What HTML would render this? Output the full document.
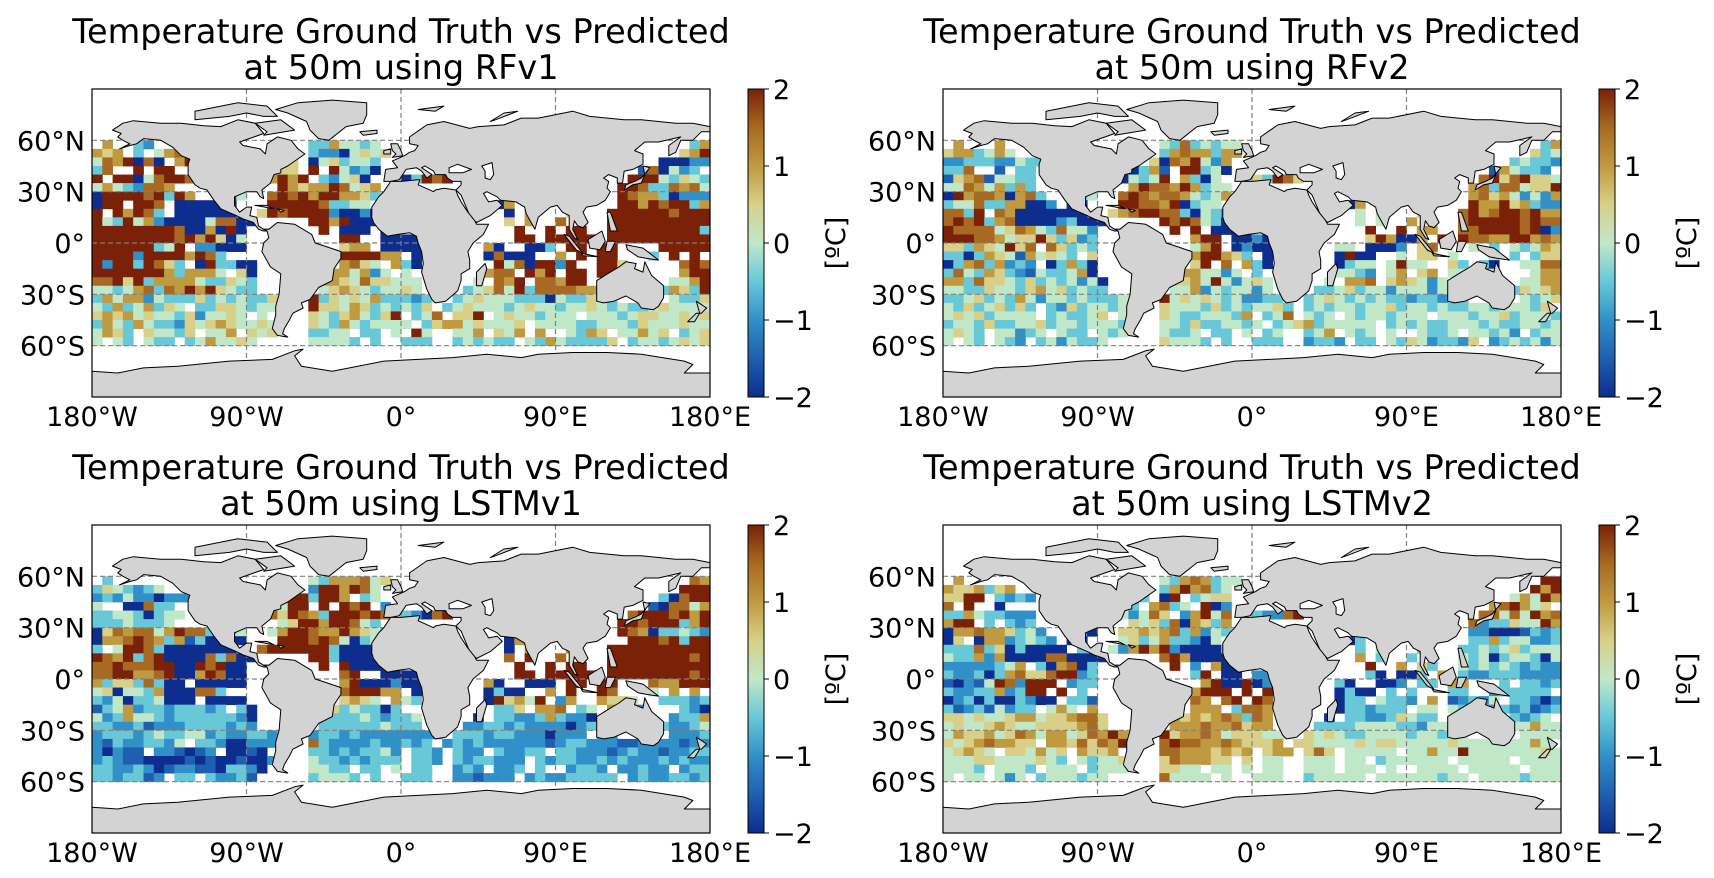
<!DOCTYPE html>
<html><head><meta charset="utf-8"><title>Temperature Ground Truth vs Predicted</title>
<style>
html,body{margin:0;padding:0;background:#fff;}
svg{display:block;font-family:"DejaVu Sans","Liberation Sans",sans-serif;}
</style></head>
<body>
<svg id="fig" width="1714" height="878" viewBox="0 0 1714 878" xmlns="http://www.w3.org/2000/svg">
<defs>
<linearGradient id="cbgrad" x1="0" y1="1" x2="0" y2="0">
<stop offset="0" stop-color="#0d2d8f"/><stop offset="0.125" stop-color="#1f5fb0"/><stop offset="0.25" stop-color="#3190c8"/><stop offset="0.375" stop-color="#68c8d8"/><stop offset="0.5" stop-color="#c0e8c8"/><stop offset="0.625" stop-color="#d8d088"/><stop offset="0.75" stop-color="#c09a40"/><stop offset="0.875" stop-color="#a86a22"/><stop offset="1" stop-color="#7a2108"/>
</linearGradient>
</defs>
</svg>
<script>
// ---- chart data ----
const lonTicks = [-180, -90, 0, 90, 180];
const lonTickLabels = ["180°W", "90°W", "0°", "90°E", "180°E"];
const latTicks = [60, 30, 0, -30, -60];
const latTickLabels = ["60°N", "30°N", "0°", "30°S", "60°S"];
const cbTicks = [2, 1, 0, -1, -2];
const cbTickLabels = ["2", "1", "0", "\u22121", "\u22122"];
const panelTitles = ["at 50m using RFv1", "at 50m using RFv2", "at 50m using LSTMv1", "at 50m using LSTMv2"];
// rows 60N->60S in 5° steps, 60 columns of 6° from 180W; digit d => (d-4)/2 °C, '.' = no data
const rfv1Rows = [
".6..32...............3364434..............................36",
"656.3.467............32204545............................568",
"4768070.68........55.0453443...........................00022",
"37..8.88..........55.8.84230.........................170423",
"8.88047887.......6868.32450...03878.................88843543",
"46432776..........8656687456.......................887337674",
"0888878386..304..787868866534......................876630222",
"088.887.000000...8888873344............06..........886878836",
"8.86873.000000..5878888200200...........0.6...5...8888887888",
"8438462000047700.....88680000...........5.6..7....8888888888",
"888888887006080.......8.000.0............8..8.88..8888888883",
"888888887868504.........88..0000.........88.88888.8888888888",
"888888348.22000.........566.00000.....60..003.88.88....88888",
"8888288886873...........888866.0......07000..6.8.88...3.8.8.",
"828838753.083300........6754.630.......84708828..885.....787",
"8888888636664.50.......664624.4.......677.868.88.8884....688",
"7785836666433543......6654755444.....4.768.77688........4468",
"4434673768685433......4565434454....3457483777766......36538",
"364662433353434335...8354546333234.3454443330433543.....4335",
"436346354.33554344...855465343435.345444345443445434334544445",
"565645443524454.4....543564358.347.558.45443444.444345544545",
"364364332545654454...5436434444.3566454445.44443344435444544",
"4653.54435.446.545...3344.33.4.84..446.546.6..4365.44645.345",
"4.43.433.3464454.....44443.3..333..343433.436433335.34434545"];
const rfv2Rows = [
".6...6...............43734344.............................36",
"5663464..............36766366............................534",
"2233322433........5.50768426...........................34332",
"337..1.33.........0361.88340.........................164332",
"156714433........04348.6304...53875.................78578554",
"447646363.........6877686344.......................673774558",
"0867760673..334..787677643464......................675642426",
"34473366002.00...8877680344............06..........866856322",
"7738.760000000..5678877304320...........4.4...5...7867887866",
"7878367000023000.....87874300...........4.4..6....7888887877",
"877774576437442.......8.8.000............8..8.66..7788887802",
"888776455853523.........688.0020.........586006.8.8776688676",
"553654857.75343.........468.02000.....44.0002.57...4.3.43465",
"3303654164543.5.........688653.0......0800..4.55.4...4.3.355",
"036736232.03630.........58.7.630......0344.4844..53.30..4477",
"374365321433460........664424.3.......4432.46.56.44304...466",
"6637554353434240......5564842454.....4.667.565424.......4466",
"4433544356453433......4462434424....3345344244424......35456",
"334534364244343334...8454543422334.3454343433233233.....4345",
"435345353.32534434...5444353434453.343443445344343344344435",
"454534444.343345.4...543344436.347.434.43443444.444344534443",
"344353344534434443...4435334434.3456344444.34343344434334434",
"4543.44234.433.434...4334.33.4.34..346.434.4..4334.44342.344",
"4.43.432.3424334.....54443.3..333..2332.33.435423325.23434242"];
const lstmv1Rows = [
".3...................43666745.............................76",
"3543234..............2886874.............................888",
"2324220222........5883886.34...........................30788",
"4..00733..........488.8.878.2.........................107746",
"334430344........758763888787.32078.................78887868",
"33343334..........4588688743.......................887888368",
"057677468773734..468876686543......................876033432",
"066787636130000...8887874034............06..........888783883",
"3.488730000000..7888888300000...........0.6...6...8888888888",
"8768378000073700.....88300000...........7.8..7....8888888878",
"778777880087800.......8.80000............8..8.88..8888888888",
"778866780068700.........78..0000.........88.88888.8888888878",
"635537300.00000.........680002000.....60..000.88.88...766888",
"4504436000773...........788866.0......0300..6.8..87...4.6.6.",
"3240334000.0000.........5654.643......085648.26..6554..33323",
"1346233233323.30.......5343303.........335.667.34.6562...3203",
"4236443233333320......3333432334.....0.3322363220.......2336",
"3322312223333232......3333334333....2233232222023......32234",
"233323433442322332...2332322222222.3332332220222.22.....2223",
"213223324.33200222...732222322323.23232222221233222112222122",
"20211.221012.0010....332323342.332.322.32233.332221232212233",
"232110000101001002...433232333.332.3233222.32332232322232322",
"33223201221103320....4433.33.4.33..232.223.3..2332.22322.233",
"3323312.33.32231.....34443.3..333..221222.232233333.23223323"];
const lstmv2Rows = [
".6...................43676344.............................88",
"6556356..............3686734.............................868",
"5588.3232.........43.08.3455...........................46486",
"7.8..0............3.6734.802.........................678645",
"336433222........42475.26847..32278.................77474867",
"688.3.323.........5453706536.......................723354486",
"0667665342..820..556567362434......................220001323",
"05.06623432.00...4534633204............03..........336344223",
"333735030000.3..4268682000030...........3.4...3...3343453444",
"4336260000770000.....78600000...........6.3..3....4340344304",
"22222346.306703.......8.2.600............8..6.53..4343432322",
"322303675578823.........38.00.22.........30.003.6.3223332222",
"10214872888.233..........68008022.....30..002.33.66...3.3323",
"3223362388.8.3..........6888.8.8......0300.3.3...33..233333.",
"02303003200.331.........76.78.87......033.4332.6.12324.33202",
"312314233.464.6.........666.3776......0332333.44.43242323123",
"5545445664556775......6565676376.....0.332235433.......3234",
"4544565445555675......6667667566....3333444433244......44644",
"465564576466457686...8566764555444.5454334444344344.....4444",
"545676655.66575768...787766765556.5544445455444445444444464",
"45654.554645.6556....776665656.566.575.44444.446448444444454",
"444554444543.43445...5766655.5.44..444.44.3444444.44444.4444",
"4443.4443.444.3444...5544.44.4.44..444.444.4..4444.44444.444",
"4.44.424.3444344.....74444.4..444..344444.444444344.44443444"];

// land polygons (lon, lat) - rough outlines
const landPolys = [
[[-168,66],[-162,70],[-156,71.5],[-140,70],[-128,70],[-115,68.5],[-105,68],[-95,72],[-85,70],[-80,64],[-94,59],[-92,57],[-82,55],[-79,52],[-78,58],[-72,62],[-64,60],[-60,55],[-56,52],[-66,45],[-70,43],[-70,41],[-74,40],[-76,35],[-81,31],[-80,26],[-82,27],[-84,30],[-90,30],[-97,27],[-97,22],[-94,18],[-90,21],[-87,21],[-88,16],[-84,15],[-83,10],[-80,8],[-77,8],[-78,7],[-80,7],[-83,8],[-86,12],[-92,14],[-96,16],[-105,20],[-109,25],[-113,31],[-117,32],[-120,34],[-124,40],[-124,46],[-123,49],[-128,51],[-133,56],[-140,60],[-150,61],[-154,58],[-158,57],[-164,55],[-158,58],[-162,60],[-165,62],[-163,64],[-168,66]],
[[-73,78],[-60,82],[-40,83.5],[-20,82],[-20,75],[-22,70],[-32,68],[-42,60],[-48,61],[-53,66],[-55,71],[-66,76],[-73,78]],
[[-120,72],[-100,74],[-90,76],[-80,74],[-72,74],[-78,80],[-95,82],[-120,77]],
[[-80,63],[-62,66],[-70,72],[-85,70],[-78,65]],
[[-80,8],[-77,8],[-72,12],[-62,11],[-52,5],[-50,0],[-44,-2],[-35,-5],[-35,-9],[-39,-15],[-40,-22],[-48,-26],[-53,-33],[-58,-35],[-57,-38],[-63,-41],[-65,-45],[-68,-50],[-69,-53],[-66,-55],[-72,-54],[-75,-50],[-73,-42],[-73,-37],[-71,-30],[-70,-18],[-76,-14],[-81,-5],[-80,0],[-77,3],[-78,7]],
[[-10,36],[-9,43],[-2,44],[-5,48],[2,51],[5,53],[8,54],[10,57],[5,58],[5,62],[15,69],[25,71],[40,67],[45,68],[60,69],[70,73],[80,73],[100,77],[110,74],[130,72],[140,72],[160,70],[170,70],[180,68],[180,65],[175,65],[170,60],[163,60],[160,53],[156,51],[156,57],[163,62],[150,59],[142,59],[136,54],[141,52],[141,46],[135,43],[130,42],[129,35],[126,35],[126,38],[121,40],[118,38],[121,36],[120,32],[122,30],[119,25],[114,22],[108,21],[106,18],[109,12],[106,9],[103,10],[101,13],[100,8],[103,2],[101,3],[98,8],[98,16],[94,18],[91,22],[87,21],[80,15],[78,8],[73,17],[72,21],[67,24],[58,25],[56,27],[50,30],[48,29],[51,24],[56,25],[59,22],[52,16],[44,12],[40,16],[35,28],[32,31],[35,34],[35,36],[30,36],[27,38],[26,40],[23,40],[20,40],[19,42],[14,45],[12,44],[18,40],[15,38],[12,42],[9,44],[3,43],[-1,37],[-6,36],[-10,36]],
[[-17,21],[-17,15],[-16,12],[-13,8],[-8,4],[-2,5],[5,6],[9,4],[10,0],[12,-5],[13,-12],[12,-17],[15,-27],[18,-33],[20,-35],[26,-34],[33,-28],[35,-22],[35,-18],[40,-15],[40,-10],[39,-5],[42,0],[48,5],[51,11],[44,11],[43,13],[39,18],[35,24],[33,28],[32,31],[25,32],[20,31],[19,30],[10,34],[11,37],[10,37],[0,36],[-6,36],[-10,30],[-13,27],[-17,21]],
[[44,-25],[47,-25],[50,-15],[49,-12],[44,-17]],
[[-5,50],[1,51],[0,54],[-2,58],[-6,58],[-5,54],[-3,52]],
[[-10,52],[-6,52],[-6,55],[-10,54]],
[[-24,65],[-14,66],[-14,64],[-22,63]],
[[130,31],[135,34],[140,35],[142,40],[141,45],[145,44],[140,38],[136,36],[131,34]],
[[95,5],[98,4],[106,-6],[102,-4]],
[[109,2],[117,7],[119,1],[116,-4],[110,-3]],
[[105,-6],[115,-8],[106,-7.5]],
[[120,1],[125,1],[122,-5],[119,-5]],
[[131,-1],[141,-3],[150,-10],[143,-9],[138,-8],[132,-4]],
[[120,18],[122,18],[126,7],[122,7]],
[[114,-22],[114,-34],[118,-35],[124,-34],[131,-31],[138,-35],[140,-38],[147,-39],[150,-37],[153,-32],[153,-25],[146,-19],[142,-11],[141,-17],[136,-15],[137,-12],[131,-11],[127,-14],[122,-17]],
[[172,-34],[178,-38],[175,-41],[174,-41]],
[[172,-41],[174,-41],[171,-46],[167,-46]],
[[-85,22],[-74,20],[-78,22]],
[[-72,20],[-68,19],[-70,18]],
[[10,78],[25,80],[20,77]],
[[52,71],[60,76],[68,77],[55,72]],
[[-180,-90],[-180,-75],[-165,-76],[-150,-73],[-130,-72],[-100,-69],[-75,-68],[-62,-63],[-57,-62],[-62,-66],[-58,-72],[-40,-75],[-30,-73],[-10,-69],[10,-68],[30,-67],[50,-65],[70,-67],[80,-65],[100,-64],[120,-64],[140,-65],[165,-69],[170,-71],[165,-76],[180,-76],[180,-90]]
];
const lakePolys = [
[[47,45],[53,47],[54,40],[52,37],[49,38],[49,42]],
[[28,44],[33,46],[41,43],[36,41],[28,41]]
];

const NS = "http://www.w3.org/2000/svg";
const svg = document.getElementById("fig");
const stopsV = [-2,-1.5,-1,-0.5,0,0.5,1,1.5,2];
const stopsC = ["#0d2d8f","#1f5fb0","#3190c8","#68c8d8","#c0e8c8","#d8d088","#c09a40","#a86a22","#7a2108"];
function hex(c){return [parseInt(c.slice(1,3),16),parseInt(c.slice(3,5),16),parseInt(c.slice(5,7),16)];}
function cmap(v){
  v=Math.max(-2,Math.min(2,v));
  for(let k=0;k<stopsV.length-1;k++){
    if(v<=stopsV[k+1]){const t=(v-stopsV[k])/(stopsV[k+1]-stopsV[k]);const a=hex(stopsC[k]),b=hex(stopsC[k+1]);
      return "rgb("+a.map((x,i)=>Math.round(x+(b[i]-x)*t)).join(",")+")";}
  }
  return stopsC[stopsC.length-1];
}
function mk(tag,attrs,parent){const e=document.createElementNS(NS,tag);for(const k in attrs)e.setAttribute(k,attrs[k]);(parent||svg).appendChild(e);return e;}

const FW=618, FH=308;
const panels=[
 {x0:92,y0:89,rows:rfv1Rows,title:panelTitles[0],name:"rfv1"},
 {x0:943,y0:89,rows:rfv2Rows,title:panelTitles[1],name:"rfv2"},
 {x0:92,y0:525,rows:lstmv1Rows,title:panelTitles[2],name:"lstmv1"},
 {x0:943,y0:525,rows:lstmv2Rows,title:panelTitles[3],name:"lstmv2"}
];

panels.forEach((p,pi)=>{
  const xS=lon=>p.x0+(lon+180)*FW/360;
  const yS=lat=>p.y0+(90-lat)*FH/180;
  const g=mk("g",{});
  
  
  const cp=mk("clipPath",{id:"clip"+pi},g);
  mk("rect",{x:p.x0,y:p.y0,width:FW,height:FH},cp);
  const inner=mk("g",{"clip-path":"url(#clip"+pi+")"},g);
  const cells=mk("g",{},inner);
  
  
  p.rows.forEach((row,j)=>{
    for(let i=0;i<60;i++){
      const ch=row[i];
      if(ch===undefined||ch<"0"||ch>"8")continue;
      const v=(ch.charCodeAt(0)-52)/2;
      const lon=-180+6*i, lat=60-5*j;
      const r=mk("rect",{x:xS(lon).toFixed(2),y:yS(lat).toFixed(2),width:(xS(lon+6)-xS(lon)+0.4).toFixed(2),height:(yS(lat-5)-yS(lat)+0.4).toFixed(2),fill:cmap(v)},cells);
      
      
    }
  });
  const grid=mk("g",{stroke:"#808080","stroke-width":1.2,"stroke-dasharray":"5,3",fill:"none"},inner);
  
  
  [-90,0,90].forEach(l=>mk("line",{x1:xS(l),x2:xS(l),y1:p.y0,y2:p.y0+FH},grid));
  latTicks.forEach(l=>mk("line",{x1:p.x0,x2:p.x0+FW,y1:yS(l),y2:yS(l)},grid));
  const land=mk("g",{fill:"#d3d3d3",stroke:"#000","stroke-width":1,"stroke-linejoin":"round"},inner);
  
  
  landPolys.forEach(poly=>{mk("polygon",{points:poly.map(q=>xS(q[0]).toFixed(1)+","+yS(q[1]).toFixed(1)).join(" ")},land);});
  lakePolys.forEach(poly=>{mk("polygon",{fill:"#fff",points:poly.map(q=>xS(q[0]).toFixed(1)+","+yS(q[1]).toFixed(1)).join(" ")},land);});
  const fr=mk("rect",{x:p.x0,y:p.y0,width:FW,height:FH,fill:"none",stroke:"#000","stroke-width":1.2},g);
  
  
  const cx=p.x0+FW/2;
  const t1=mk("text",{x:cx,y:p.y0-46,"text-anchor":"middle","font-size":33.5,fill:"#000"},g);
  t1.textContent="Temperature Ground Truth vs Predicted";
  
  
  const t2=mk("text",{x:cx,y:p.y0-10,"text-anchor":"middle","font-size":33.5,fill:"#000"},g);
  t2.textContent=p.title;
  
  
  lonTicks.forEach((l,k)=>{
    const t=mk("text",{x:xS(l),y:p.y0+FH+29,"text-anchor":"middle","font-size":27},g);
    t.textContent=lonTickLabels[k];
    
    
  });
  latTicks.forEach((l,k)=>{
    const t=mk("text",{x:p.x0-7,y:yS(l)+10,"text-anchor":"end","font-size":27},g);
    t.textContent=latTickLabels[k];
    
    
  });
  const cbx=p.x0+656, cbw=16;
  const cbS=v=>p.y0+(2-v)*FH/4;
  const cb=mk("g",{},g);
  
  
  mk("rect",{x:cbx,y:p.y0,width:cbw,height:FH,fill:"url(#cbgrad)",stroke:"#000","stroke-width":1},cb);
  cbTicks.forEach((v,k)=>{
    mk("line",{x1:cbx+cbw,x2:cbx+cbw+5,y1:cbS(v),y2:cbS(v),stroke:"#000","stroke-width":1},cb);
    const t=mk("text",{x:cbx+cbw+9,y:cbS(v)+10,"font-size":27},cb);
    t.textContent=cbTickLabels[k];
    
    
  });
  const cl=mk("text",{x:0,y:0,"text-anchor":"middle","font-size":27,transform:"translate("+(cbx+97)+","+(p.y0+FH/2)+") rotate(-90)"},cb);
  cl.textContent="[ºC]";
  
  
});
</script>
</body></html>
